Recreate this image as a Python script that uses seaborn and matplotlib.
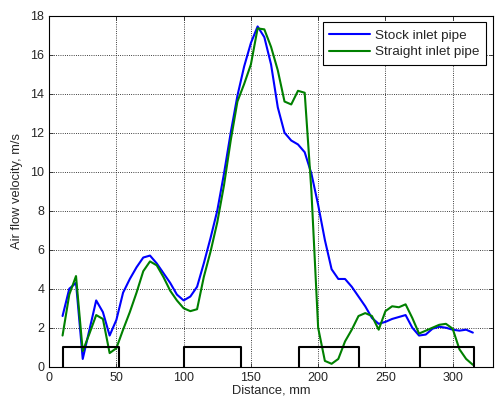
import pandas as pd
import matplotlib
matplotlib.use("Agg")
import matplotlib.pyplot as plt
import seaborn as sns

# dados
distancia = [10, 15, 20, 25, 30, 35, 40, 45, 50, 55, 60, 65, 70, 75, 80, 85, 90, 95,
             100, 105, 110, 115, 120, 125, 130, 135, 140, 145, 150, 155, 160, 165,
             170, 175, 180, 185, 190, 195, 200, 205, 210, 215, 220, 225, 230, 235,
             240, 245, 250, 255, 260, 265, 270, 275, 280, 285, 290, 295, 300, 305,
             310, 315]
stock = [2.6, 4.0, 4.3, 0.4, 1.9, 3.4, 2.8, 1.6, 2.4, 3.8, 4.5, 5.1, 5.6, 5.7, 5.3, 4.8,
         4.3, 3.7, 3.4, 3.6, 4.1, 5.3, 6.6, 8.0, 9.9, 12.0, 13.9, 15.4, 16.6, 17.45,
         16.9, 15.5, 13.3, 12.0, 11.6, 11.4, 11.0, 9.9, 8.3, 6.5, 5.0, 4.5, 4.5, 4.1,
         3.6, 3.1, 2.5, 2.2, 2.3, 2.45, 2.55, 2.65, 2.0, 1.6, 1.65, 1.95, 2.05, 2.0,
         1.9, 1.85, 1.9, 1.75]
straight = [1.6, 3.7, 4.65, 0.8, 1.7, 2.65, 2.45, 0.7, 0.95, 1.9, 2.8, 3.8, 4.9, 5.4,
            5.2, 4.6, 3.9, 3.4, 3.0, 2.85, 2.95, 4.6, 5.9, 7.4, 9.3, 11.6, 13.6, 14.5,
            15.5, 17.35, 17.3, 16.4, 15.2, 13.6, 13.45, 14.15, 14.05, 9.0, 2.0, 0.3,
            0.15, 0.4, 1.3, 1.9, 2.6, 2.75, 2.6, 1.9, 2.85, 3.1, 3.05, 3.2, 2.5, 1.7,
            1.85, 2.0, 2.15, 2.2, 1.95, 0.9, 0.4, 0.1]
series = ["Stock inlet pipe", "Straight inlet pipe"]

# blocos (retângulos pretos)
bloco_inicio = [10, 100, 186, 276]
bloco_fim = [52, 143, 230, 316]
bloco_altura = 1

df = pd.concat([
    pd.DataFrame({"dist": distancia, "vel": stock, "serie": series[0]}),
    pd.DataFrame({"dist": distancia, "vel": straight, "serie": series[1]}),
], ignore_index=True)

sns.set_theme(style="ticks")
plt.rcParams["font.family"] = ["Liberation Sans", "DejaVu Sans"]

fig = plt.figure(figsize=(4.96, 4.03), dpi=100)
ax = fig.add_axes([0.099, 0.09, 0.895, 0.871])

sns.lineplot(data=df, x="dist", y="vel", hue="serie",
             palette={series[0]: "#0000ff", series[1]: "#008000"},
             linewidth=1.5, ax=ax, sort=False)

for a, b in zip(bloco_inicio, bloco_fim):
    ax.plot([a, a, b, b], [0, bloco_altura, bloco_altura, 0], color="black", lw=1.5)

ax.set_xlim(0, 330)
ax.set_ylim(0, 18)
ax.set_xticks(range(0, 301, 50))
ax.set_yticks(range(0, 19, 2))
ax.grid(True, linestyle=":", color="black", linewidth=0.6)
ax.tick_params(direction="in", top=True, right=True, labelsize=9, length=3, width=0.6)
for s in ax.spines.values():
    s.set_color("black")
    s.set_linewidth(0.8)
ax.set_xlabel("Distance, mm", fontsize=9.3, labelpad=1)
ax.set_ylabel("Air flow velocity, m/s", fontsize=9.3, labelpad=5)

leg = ax.legend(loc="upper right", fontsize=9.7, fancybox=False, framealpha=1,
                edgecolor="black", handlelength=3.0, handletextpad=0.4,
                borderaxespad=0.5, borderpad=0.5, labelspacing=0.32)
leg.get_frame().set_linewidth(0.8)
leg.set_title(None)

fig.savefig("out.png", dpi=100)
